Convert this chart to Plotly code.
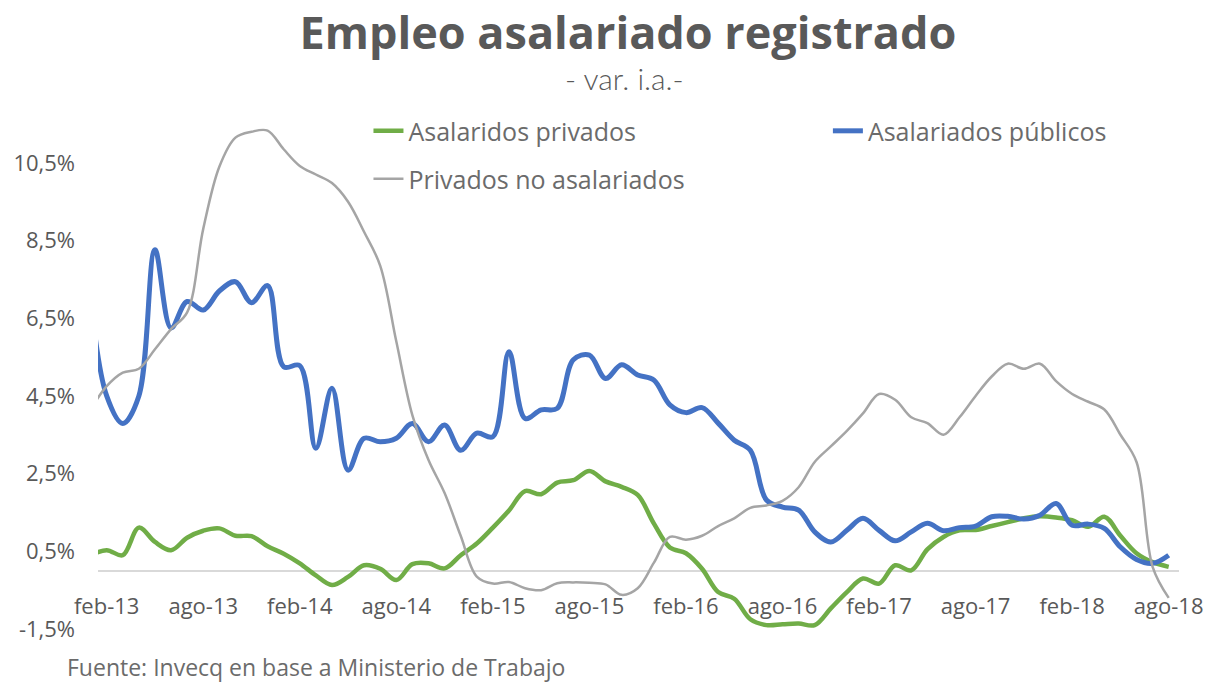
import plotly.graph_objects as go

months = [
    "ene-13", "feb-13", "mar-13", "abr-13", "may-13", "jun-13", "jul-13", "ago-13", "sep-13", "oct-13", "nov-13", "dic-13",
    "ene-14", "feb-14", "mar-14", "abr-14", "may-14", "jun-14", "jul-14", "ago-14", "sep-14", "oct-14", "nov-14", "dic-14",
    "ene-15", "feb-15", "mar-15", "abr-15", "may-15", "jun-15", "jul-15", "ago-15", "sep-15", "oct-15", "nov-15", "dic-15",
    "ene-16", "feb-16", "mar-16", "abr-16", "may-16", "jun-16", "jul-16", "ago-16", "sep-16", "oct-16", "nov-16", "dic-16",
    "ene-17", "feb-17", "mar-17", "abr-17", "may-17", "jun-17", "jul-17", "ago-17", "sep-17", "oct-17", "nov-17", "dic-17",
    "ene-18", "feb-18", "mar-18", "abr-18", "may-18", "jun-18", "jul-18", "ago-18",
]

asalariados_privados = [
    0.40, 0.53, 0.40, 1.11, 0.74, 0.53, 0.85, 1.03, 1.09, 0.90, 0.89, 0.63,
    0.44, 0.19, -0.12, -0.37, -0.16, 0.14, 0.05, -0.24, 0.17, 0.19, 0.06, 0.40,
    0.70, 1.11, 1.55, 2.05, 1.97, 2.27, 2.33, 2.57, 2.30, 2.16, 1.95, 1.22,
    0.60, 0.45, 0.05, -0.55, -0.72, -1.25, -1.40, -1.38, -1.36, -1.40, -0.97, -0.55,
    -0.20, -0.33, 0.14, 0.01, 0.55, 0.87, 1.04, 1.05, 1.15, 1.25, 1.35, 1.40,
    1.37, 1.30, 1.13, 1.39, 0.90, 0.45, 0.22, 0.10,
]

asalariados_publicos = [
    7.00, 4.50, 3.79, 4.50, 8.26, 6.25, 6.93, 6.71, 7.20, 7.44, 6.90, 7.34,
    5.25, 5.28, 3.15, 4.70, 2.59, 3.41, 3.32, 3.41, 3.79, 3.32, 3.75, 3.10,
    3.54, 3.45, 5.64, 3.92, 4.14, 4.18, 5.43, 5.55, 4.95, 5.30, 5.04, 4.91,
    4.27, 4.07, 4.20, 3.80, 3.36, 3.10, 1.82, 1.64, 1.56, 1.00, 0.74, 1.04,
    1.35, 1.04, 0.77, 1.00, 1.22, 1.03, 1.11, 1.15, 1.39, 1.40, 1.33, 1.43,
    1.73, 1.17, 1.20, 1.09, 0.61, 0.29, 0.19, 0.40,
]

privados_no_asalariados = [
    4.15, 4.75, 5.10, 5.20, 5.70, 6.22, 6.65, 8.80, 10.40, 11.15, 11.30, 11.33,
    10.85, 10.42, 10.20, 9.98, 9.50, 8.72, 7.85, 5.90, 4.00, 2.85, 2.00, 0.90,
    -0.15, -0.33, -0.29, -0.45, -0.50, -0.32, -0.30, -0.31, -0.35, -0.62, -0.45, 0.20,
    0.87, 0.80, 0.90, 1.15, 1.35, 1.62, 1.68, 1.80, 2.15, 2.80, 3.20, 3.60,
    4.05, 4.55, 4.40, 3.95, 3.80, 3.50, 3.95, 4.50, 5.00, 5.33, 5.20, 5.33,
    4.88, 4.55, 4.35, 4.15, 3.50, 2.80, 0.10, -0.70,
]

x_tick_labels = ["feb-13", "ago-13", "feb-14", "ago-14", "feb-15", "ago-15",
                 "feb-16", "ago-16", "feb-17", "ago-17", "feb-18", "ago-18"]
y_tick_values = [-1.5, 0.5, 2.5, 4.5, 6.5, 8.5, 10.5]
y_tick_labels = ["-1,5%", "0,5%", "2,5%", "4,5%", "6,5%", "8,5%", "10,5%"]

TEXT = "#595959"
LIGHT = "#6b6b6b"
LEG_FONT = dict(family="Open Sans, sans-serif", size=25, color=LIGHT)

fig = go.Figure()
fig.add_trace(go.Scatter(
    x=months, y=asalariados_privados, name="Asalaridos privados", mode="lines",
    line=dict(color="#70AD47", width=4.5, shape="spline", smoothing=1.0),
    legend="legend", hoverinfo="skip"))
fig.add_trace(go.Scatter(
    x=months, y=asalariados_publicos, name="Asalariados públicos", mode="lines",
    line=dict(color="#4472C4", width=5, shape="spline", smoothing=1.0),
    legend="legend2", hoverinfo="skip"))
fig.add_trace(go.Scatter(
    x=months, y=privados_no_asalariados, name="Privados no asalariados", mode="lines",
    line=dict(color="#A5A5A5", width=2.5, shape="spline", smoothing=1.0),
    legend="legend3", hoverinfo="skip"))

fig.update_layout(
    width=1215, height=688,
    margin=dict(l=98, r=30, t=124, b=59),
    paper_bgcolor="white", plot_bgcolor="white",
    font=dict(family="Open Sans, sans-serif", color=TEXT),
    title=dict(text="<b>Empleo asalariado registrado</b>", x=628 / 1215, xanchor="center",
               y=1 - 33 / 688, yanchor="middle", yref="container",
               font=dict(family="Open Sans, sans-serif", size=45, color=TEXT)),
    showlegend=True,
    legend=dict(orientation="h", x=0.2502, xanchor="left", y=0.986, yanchor="middle",
                bgcolor="rgba(0,0,0,0)", font=LEG_FONT),
    legend2=dict(orientation="h", x=0.6752, xanchor="left", y=0.986, yanchor="middle",
                 bgcolor="rgba(0,0,0,0)", font=LEG_FONT),
    legend3=dict(orientation="h", x=0.2502, xanchor="left", y=0.891, yanchor="middle",
                 bgcolor="rgba(0,0,0,0)", font=LEG_FONT),
    xaxis=dict(type="category", categoryorder="array", categoryarray=months,
               range=[0.46, 67.64], tickvals=x_tick_labels, ticktext=x_tick_labels,
               showgrid=False, showline=False, zeroline=False, ticks="",
               anchor="free", position=0.075,
               tickfont=dict(family="Open Sans, sans-serif", size=22, color=TEXT)),
    yaxis=dict(range=[-1.5, 11.5], tickvals=y_tick_values, ticktext=y_tick_labels,
               showgrid=False, showline=False, ticks="",
               zeroline=True, zerolinecolor="#D9D9D9", zerolinewidth=1.5,
               ticklabelstandoff=22,
               tickfont=dict(family="Open Sans, sans-serif", size=22, color=TEXT)),
    annotations=[
        dict(text="- var. i.a.-", x=(627 - 98) / 1087, xref="paper", y=(629 - 78) / 505, yref="paper",
             xanchor="center", yanchor="middle", showarrow=False,
             font=dict(family="Lato, sans-serif", size=30, color=TEXT, weight=300)),
        dict(text="Fuente: Invecq en base a Ministerio de Trabajo", x=(65 - 98) / 1087, xref="paper",
             y=(629 - 667) / 505, yref="paper", xanchor="left", yanchor="middle", showarrow=False,
             font=dict(family="Open Sans, sans-serif", size=23, color=LIGHT)),
    ],
)

fig.write_html("out.html", config={"displayModeBar": False},
               post_script="document.body.style.margin='0px';document.body.style.overflow='hidden';")
